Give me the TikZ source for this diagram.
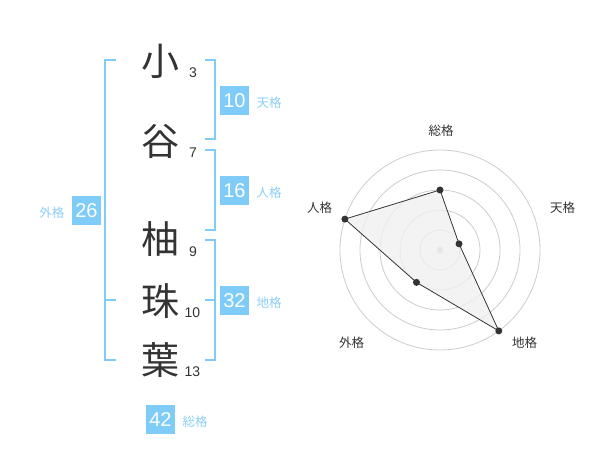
\documentclass[tikz,border=0pt]{standalone}
\usepackage{fontspec}
\setmainfont{Liberation Sans}
\newfontfamily\jpfont{Noto Sans CJK JP}
\usetikzlibrary{positioning}
\definecolor{kakublue}{HTML}{80CCF8}
\definecolor{lblblue}{HTML}{8CCFF5}
\definecolor{moji}{HTML}{333333}
\tikzset{
  kaku/.style={draw=kakublue, line width=2pt},
  numbox/.style={fill=kakublue, text=white, minimum size=29pt, inner sep=0pt, font=\fontsize{20}{20}\selectfont},
  kakulbl/.style={text=lblblue, font=\jpfont\fontsize{12.5}{12.5}\selectfont, yshift=-2pt},
  kanji/.style={text=moji, font=\jpfont\fontsize{38}{38}\selectfont},
  kakusu/.style={text=moji, font=\fontsize{14}{14}\selectfont},
  ring/.style={draw=black!20, line width=0.8pt},
  radarlbl/.style={text=moji, font=\jpfont\fontsize{12.5}{12.5}\selectfont},
  pt/.style={circle, fill=moji, inner sep=0pt, minimum size=7pt}
}
\begin{document}
\begin{tikzpicture}[x=1pt,y=-1pt]
\useasboundingbox (0,0) rectangle (600,470);
% name characters and stroke counts
\node[kanji] (c1) at (160,61) {小};
\node[kanji] (c2) at (160,141) {谷};
\node[kanji] (c3) at (160,239) {柚};
\node[kanji] (c4) at (160,301) {珠};
\node[kanji] (c5) at (160,360) {葉};
\node[kakusu] (n1) at (193,73) {3};
\node[kakusu] (n2) at (193,153) {7};
\node[kakusu] (n3) at (193,252) {9};
\node[kakusu] (n4) at (192.5,313) {10};
\node[kakusu] (n5) at (192.5,372) {13};
% brackets
\draw[kaku] (116,60)--(105,60)--(105,360)--(116,360);
\draw[kaku] (105,300)--(116,300);
\draw[kaku] (205,60)--(215,60)--(215,139)--(205,139);
\draw[kaku] (205,150)--(215,150)--(215,230)--(205,230);
\draw[kaku] (205,240)--(215,240)--(215,360)--(205,360);
\draw[kaku] (205,300)--(215,300);
% scores
\node[numbox] (ten) at (234.5,100.5) {10};
\node[kakulbl, right=4pt of ten] (tenl) {天格};
\node[numbox] (jin) at (234.5,191) {16};
\node[kakulbl, right=4pt of jin] (jinl) {人格};
\node[numbox] (chi) at (234.5,300.5) {32};
\node[kakulbl, right=4pt of chi] (chil) {地格};
\node[numbox] (gai) at (86.5,210.5) {26};
\node[kakulbl, left=4pt of gai] (gail) {外格};
\node[numbox] (sou) at (160.5,419.5) {42};
\node[kakulbl, right=4pt of sou] (soul) {総格};
% radar
\begin{scope}[shift={(440,250)}, yscale=-1]
\foreach \r in {20,40,...,100}
  \draw[ring] (0,0) circle (\r);
\fill[black!20] (0,0) circle (3.5);
\coordinate (rs) at (90:60);
\coordinate (rt) at (18:20);
\coordinate (rc) at (-54:100);
\coordinate (rg) at (-126:40);
\coordinate (rj) at (162:100);
\draw[fill=black!6, fill opacity=0.8, draw=moji, line width=0.8pt] (rs)--(rt)--(rc)--(rg)--(rj)--cycle;
\foreach \p in {rs,rt,rc,rg,rj}
  \node[pt] at (\p) {};
\node[radarlbl] (ls) at (1,119.5) {総格};
\node[radarlbl] (lt) at (122.5,42) {天格};
\node[radarlbl] (lc) at (84.5,-92.5) {地格};
\node[radarlbl] (lg) at (-88.5,-92.5) {外格};
\node[radarlbl] (lj) at (-120.5,42) {人格};
\end{scope}
\end{tikzpicture}
\end{document}
